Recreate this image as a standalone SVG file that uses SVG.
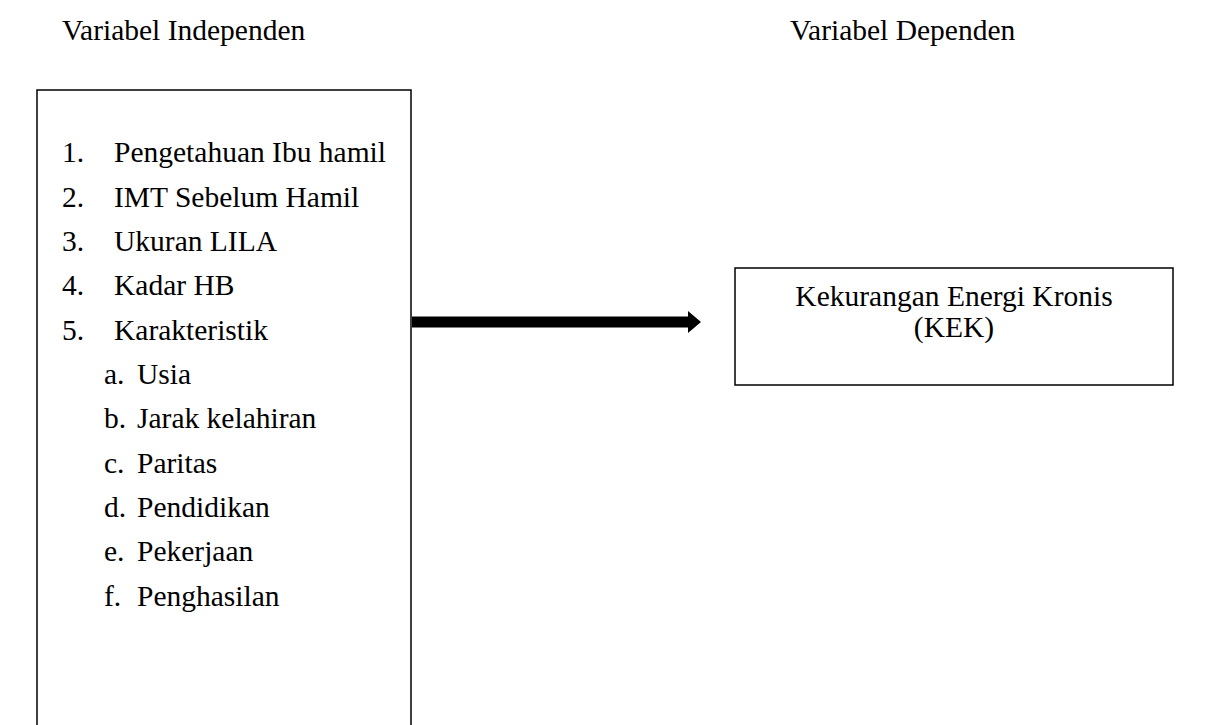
<svg xmlns="http://www.w3.org/2000/svg" width="1208" height="725" viewBox="0 0 1208 725">
<style>
text{font-family:"Liberation Serif","Times New Roman",serif;font-size:29.5px;fill:#000}
.box{fill:none;stroke:#000;stroke-width:1.5}
.mid{text-anchor:middle}
</style>
<rect width="1208" height="725" fill="#fff"/>
<g id="title-independen"><text x="62" y="40">Variabel Independen</text></g>
<g id="title-dependen"><text x="790" y="40">Variabel Dependen</text></g>
<g id="node-independen">
<path class="box" d="M37,726 V90 H411 V726"/>
<text x="62" y="162">1.</text><text x="114" y="162">Pengetahuan Ibu hamil</text>
<text x="62" y="207">2.</text><text x="114" y="207">IMT Sebelum Hamil</text>
<text x="62" y="251">3.</text><text x="114" y="251">Ukuran LILA</text>
<text x="62" y="295">4.</text><text x="114" y="295">Kadar HB</text>
<text x="62" y="340">5.</text><text x="114" y="340">Karakteristik</text>
<text x="104" y="384">a.</text><text x="137" y="384">Usia</text>
<text x="104" y="428">b.</text><text x="137" y="428">Jarak kelahiran</text>
<text x="104" y="473">c.</text><text x="137" y="473">Paritas</text>
<text x="104" y="517">d.</text><text x="137" y="517">Pendidikan</text>
<text x="104" y="561">e.</text><text x="137" y="561">Pekerjaan</text>
<text x="104" y="606">f.</text><text x="137" y="606">Penghasilan</text>
</g>
<g id="node-kek">
<rect class="box" x="735" y="268" width="438" height="117"/>
<text class="mid" x="954" y="306">Kekurangan Energi Kronis</text>
<text class="mid" x="954" y="337">(KEK)</text>
</g>
<g id="connectors">
<path d="M412,316.5 H688 V311 L701,322 L688,333 V327.5 H412 Z" fill="#000"/>
</g>
</svg>
